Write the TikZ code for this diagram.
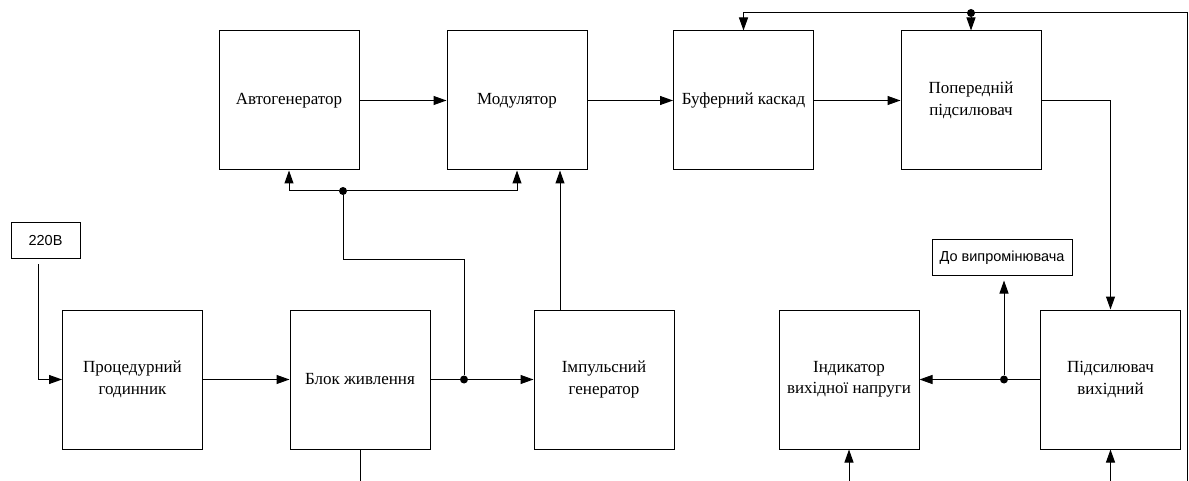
\documentclass[tikz,border=0pt]{standalone}
\usepackage{fontspec}
\setmainfont{Liberation Serif}
\newfontfamily\sansfnt{Liberation Sans}
\usetikzlibrary{arrows.meta}
\begin{document}
\begin{tikzpicture}[x=1pt,y=-1pt,
  blk/.style={draw,line width=1pt,minimum width=140pt,minimum height=139pt,align=center,inner sep=0pt,font=\fontsize{17}{21.5}\selectfont},
  lbl/.style={draw,line width=1pt,align=center,inner sep=0pt,font=\sansfnt\fontsize{14.5}{17}\selectfont},
  conn/.style={line width=1pt},
  arr/.style={conn,-{Triangle[length=13pt,width=9pt]}},
  jdot/.style={circle,fill,inner sep=0pt,minimum size=8pt}]
\useasboundingbox (0,0) rectangle (1189,481);
% blocks
\node[blk] (avto) at (289,100.5) {Автогенератор};
\node[blk] (mod)  at (517,100.5) {Модулятор};
\node[blk] (buf)  at (743.5,100.5) {Буферний каскад};
\node[blk] (pop)  at (971,100.5) {Попередній\\підсилювач};
\node[blk] (proc) at (132.5,379.5) {Процедурний\\годинник};
\node[blk] (blok) at (360,379.5) {Блок живлення};
\node[blk] (imp)  at (604,379.5) {Імпульсний\\генератор};
\node[blk] (ind)  at (849,379.5) {Індикатор\\вихідної напруги};
\node[blk] (pid)  at (1110.5,379.5) {Підсилювач\\вихідний};
\node[lbl,minimum width=69pt,minimum height=36pt] (v220) at (45.5,241) {220В};
\node[lbl,minimum width=140pt,minimum height=35pt] (dovyp) at (1002,257.5) {До випромінювача};
% helper coordinates
\coordinate (bot) at (0,481);
\coordinate (ft) at (1187,13);
\coordinate (fb) at (1187,481);
% junctions
\node[jdot] (j1) at (464,379.5) {};
\node[jdot] (j2) at (343,191) {};
\node[jdot] (j3) at (1004,379.5) {};
\node[jdot] (j4) at (971,13) {};
\coordinate (b1) at (464,260);
% top chain
\draw[arr] (avto.east) -- (mod.west);
\draw[arr] (mod.east) -- (buf.west);
\draw[arr] (buf.east) -- (pop.west);
\draw[arr] (pop.east) -| (pid.north);
% bottom-left chain
\draw[arr] ([xshift=-7.5pt,yshift=-5pt]v220.south) |- (proc.west);
\draw[arr] (proc.east) -- (blok.west);
\draw[conn] (blok.east) -- (j1);
\draw[arr] (j1) -- (imp.west);
\draw[conn] (j1) -- (b1) -| (j2);
\draw[arr] (j2) -| (avto.south);
\draw[arr] (j2) -| (mod.south);
\draw[arr] ([xshift=-44pt]imp.north) -- ([xshift=-44pt]imp.north |- mod.south);
\draw[conn] (blok.south) -- (blok.south |- bot);
% right part
\draw[conn] (pid.west) -- (j3);
\draw[arr] (j3) -- (ind.east);
\draw[arr,shorten >=5pt] (j3) -- (j3 |- dovyp.south);
\draw[arr] (ind.south |- bot) -- (ind.south);
\draw[arr] (pid.south |- bot) -- (pid.south);
% feedback
\draw[arr] (fb) -- (ft) -| (buf.north);
\draw[arr] (j4) -- (pop.north);
\end{tikzpicture}
\end{document}
